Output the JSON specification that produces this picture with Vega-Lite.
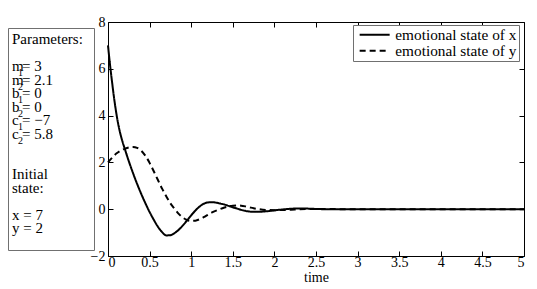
{
  "$schema": "https://vega.github.io/schema/vega-lite/v6.json",
  "padding": {"left": 7, "top": 14, "right": 0, "bottom": 0},
  "background": "white",
  "spacing": 14,
  "bounds": "flush",
  "center": true,
  "resolve": {"legend": {"strokeDash": "independent"}},
  "config": {"font": "Liberation Serif", "view": {"stroke": "black"},
    "axis": {"labelFont": "Liberation Serif", "titleFont": "Liberation Serif"},
    "legend": {"labelFont": "Liberation Serif"}},
  "hconcat": [
    {
      "width": 86,
      "height": 222,
      "view": {"stroke": "#707070", "strokeWidth": 1},
      "data": {"values": [
        {"line": 0, "kind": "main", "text": "Parameters:"},
        {"line": 2, "kind": "main", "text": "m"},
        {"line": 2, "kind": "sub", "text": "1"},
        {"line": 2, "kind": "val", "text": "= 3"},
        {"line": 3, "kind": "main", "text": "m"},
        {"line": 3, "kind": "sub", "text": "2"},
        {"line": 3, "kind": "val", "text": "= 2.1"},
        {"line": 4, "kind": "main", "text": "b"},
        {"line": 4, "kind": "sub", "text": "1"},
        {"line": 4, "kind": "val", "text": "= 0"},
        {"line": 5, "kind": "main", "text": "b"},
        {"line": 5, "kind": "sub", "text": "2"},
        {"line": 5, "kind": "val", "text": "= 0"},
        {"line": 6, "kind": "main", "text": "c"},
        {"line": 6, "kind": "sub", "text": "1"},
        {"line": 6, "kind": "val", "text": "= −7"},
        {"line": 7, "kind": "main", "text": "c"},
        {"line": 7, "kind": "sub", "text": "2"},
        {"line": 7, "kind": "val", "text": "= 5.8"},
        {"line": 10, "kind": "main", "text": "Initial"},
        {"line": 11, "kind": "main", "text": "state:"},
        {"line": 13, "kind": "main", "text": "x = 7"},
        {"line": 14, "kind": "main", "text": "y = 2"}
      ]},
      "encoding": {
        "y": {"field": "line", "type": "quantitative", "scale": {"domain": [-0.85, 15.6], "reverse": true}, "axis": null},
        "x": {"datum": 0, "type": "quantitative", "scale": {"domain": [0, 1]}, "axis": null}
      },
      "layer": [
        {
          "transform": [{"filter": "datum.kind === 'main'"}],
          "mark": {"type": "text", "align": "left", "baseline": "middle", "fontSize": 15, "font": "Liberation Serif", "color": "black", "dx": 4},
          "encoding": {"text": {"field": "text"}}
        },
        {
          "transform": [{"filter": "datum.kind === 'sub'"}],
          "mark": {"type": "text", "align": "left", "baseline": "middle", "fontSize": 10, "font": "Liberation Serif", "color": "black", "dx": 10, "dy": 7},
          "encoding": {"text": {"field": "text"}}
        },
        {
          "transform": [{"filter": "datum.kind === 'val'"}],
          "mark": {"type": "text", "align": "left", "baseline": "middle", "fontSize": 15, "font": "Liberation Serif", "color": "black", "dx": 14},
          "encoding": {"text": {"field": "text"}}
        }
      ]
    },
    {
      "width": 416,
      "height": 234,
      "view": {"stroke": "black", "strokeWidth": 1},
      "data": {"values": [
        {"t": 0, "v": 7.0, "series": "emotional state of x"},
        {"t": 0.025, "v": 6.15, "series": "emotional state of x"},
        {"t": 0.05, "v": 5.4, "series": "emotional state of x"},
        {"t": 0.075, "v": 4.7, "series": "emotional state of x"},
        {"t": 0.1, "v": 4.1, "series": "emotional state of x"},
        {"t": 0.125, "v": 3.6, "series": "emotional state of x"},
        {"t": 0.15, "v": 3.2, "series": "emotional state of x"},
        {"t": 0.175, "v": 2.88, "series": "emotional state of x"},
        {"t": 0.2, "v": 2.6, "series": "emotional state of x"},
        {"t": 0.25, "v": 2.05, "series": "emotional state of x"},
        {"t": 0.3, "v": 1.55, "series": "emotional state of x"},
        {"t": 0.35, "v": 1.08, "series": "emotional state of x"},
        {"t": 0.4, "v": 0.65, "series": "emotional state of x"},
        {"t": 0.45, "v": 0.25, "series": "emotional state of x"},
        {"t": 0.5, "v": -0.12, "series": "emotional state of x"},
        {"t": 0.55, "v": -0.45, "series": "emotional state of x"},
        {"t": 0.6, "v": -0.75, "series": "emotional state of x"},
        {"t": 0.65, "v": -0.98, "series": "emotional state of x"},
        {"t": 0.7, "v": -1.12, "series": "emotional state of x"},
        {"t": 0.75, "v": -1.11, "series": "emotional state of x"},
        {"t": 0.8, "v": -1.02, "series": "emotional state of x"},
        {"t": 0.85, "v": -0.88, "series": "emotional state of x"},
        {"t": 0.9, "v": -0.69, "series": "emotional state of x"},
        {"t": 0.95, "v": -0.48, "series": "emotional state of x"},
        {"t": 1.0, "v": -0.26, "series": "emotional state of x"},
        {"t": 1.05, "v": -0.06, "series": "emotional state of x"},
        {"t": 1.1, "v": 0.11, "series": "emotional state of x"},
        {"t": 1.15, "v": 0.23, "series": "emotional state of x"},
        {"t": 1.2, "v": 0.29, "series": "emotional state of x"},
        {"t": 1.25, "v": 0.3, "series": "emotional state of x"},
        {"t": 1.3, "v": 0.28, "series": "emotional state of x"},
        {"t": 1.35, "v": 0.24, "series": "emotional state of x"},
        {"t": 1.4, "v": 0.2, "series": "emotional state of x"},
        {"t": 1.45, "v": 0.14, "series": "emotional state of x"},
        {"t": 1.5, "v": 0.08, "series": "emotional state of x"},
        {"t": 1.55, "v": 0.03, "series": "emotional state of x"},
        {"t": 1.6, "v": -0.03, "series": "emotional state of x"},
        {"t": 1.65, "v": -0.07, "series": "emotional state of x"},
        {"t": 1.7, "v": -0.1, "series": "emotional state of x"},
        {"t": 1.75, "v": -0.11, "series": "emotional state of x"},
        {"t": 1.8, "v": -0.11, "series": "emotional state of x"},
        {"t": 1.9, "v": -0.09, "series": "emotional state of x"},
        {"t": 2.0, "v": -0.05, "series": "emotional state of x"},
        {"t": 2.1, "v": -0.01, "series": "emotional state of x"},
        {"t": 2.2, "v": 0.02, "series": "emotional state of x"},
        {"t": 2.3, "v": 0.03, "series": "emotional state of x"},
        {"t": 2.4, "v": 0.025, "series": "emotional state of x"},
        {"t": 2.5, "v": 0.01, "series": "emotional state of x"},
        {"t": 2.7, "v": -0.005, "series": "emotional state of x"},
        {"t": 3.0, "v": 0, "series": "emotional state of x"},
        {"t": 4.0, "v": 0, "series": "emotional state of x"},
        {"t": 5.0, "v": 0, "series": "emotional state of x"},
        {"t": 0, "v": 2.0, "series": "emotional state of y"},
        {"t": 0.05, "v": 2.2, "series": "emotional state of y"},
        {"t": 0.1, "v": 2.38, "series": "emotional state of y"},
        {"t": 0.15, "v": 2.5, "series": "emotional state of y"},
        {"t": 0.2, "v": 2.58, "series": "emotional state of y"},
        {"t": 0.25, "v": 2.64, "series": "emotional state of y"},
        {"t": 0.3, "v": 2.66, "series": "emotional state of y"},
        {"t": 0.35, "v": 2.62, "series": "emotional state of y"},
        {"t": 0.4, "v": 2.5, "series": "emotional state of y"},
        {"t": 0.45, "v": 2.28, "series": "emotional state of y"},
        {"t": 0.5, "v": 1.98, "series": "emotional state of y"},
        {"t": 0.55, "v": 1.62, "series": "emotional state of y"},
        {"t": 0.6, "v": 1.25, "series": "emotional state of y"},
        {"t": 0.65, "v": 0.88, "series": "emotional state of y"},
        {"t": 0.7, "v": 0.55, "series": "emotional state of y"},
        {"t": 0.75, "v": 0.25, "series": "emotional state of y"},
        {"t": 0.8, "v": 0.02, "series": "emotional state of y"},
        {"t": 0.85, "v": -0.2, "series": "emotional state of y"},
        {"t": 0.9, "v": -0.36, "series": "emotional state of y"},
        {"t": 0.95, "v": -0.46, "series": "emotional state of y"},
        {"t": 1.0, "v": -0.5, "series": "emotional state of y"},
        {"t": 1.05, "v": -0.49, "series": "emotional state of y"},
        {"t": 1.1, "v": -0.43, "series": "emotional state of y"},
        {"t": 1.15, "v": -0.34, "series": "emotional state of y"},
        {"t": 1.2, "v": -0.24, "series": "emotional state of y"},
        {"t": 1.25, "v": -0.14, "series": "emotional state of y"},
        {"t": 1.3, "v": -0.06, "series": "emotional state of y"},
        {"t": 1.35, "v": 0.01, "series": "emotional state of y"},
        {"t": 1.4, "v": 0.07, "series": "emotional state of y"},
        {"t": 1.45, "v": 0.12, "series": "emotional state of y"},
        {"t": 1.5, "v": 0.15, "series": "emotional state of y"},
        {"t": 1.55, "v": 0.16, "series": "emotional state of y"},
        {"t": 1.6, "v": 0.15, "series": "emotional state of y"},
        {"t": 1.65, "v": 0.12, "series": "emotional state of y"},
        {"t": 1.7, "v": 0.08, "series": "emotional state of y"},
        {"t": 1.75, "v": 0.04, "series": "emotional state of y"},
        {"t": 1.8, "v": 0.01, "series": "emotional state of y"},
        {"t": 1.9, "v": -0.03, "series": "emotional state of y"},
        {"t": 2.0, "v": -0.04, "series": "emotional state of y"},
        {"t": 2.1, "v": -0.035, "series": "emotional state of y"},
        {"t": 2.2, "v": -0.02, "series": "emotional state of y"},
        {"t": 2.3, "v": 0.0, "series": "emotional state of y"},
        {"t": 2.4, "v": 0.01, "series": "emotional state of y"},
        {"t": 2.5, "v": 0.012, "series": "emotional state of y"},
        {"t": 2.7, "v": 0.005, "series": "emotional state of y"},
        {"t": 3.0, "v": 0, "series": "emotional state of y"},
        {"t": 4.0, "v": 0, "series": "emotional state of y"},
        {"t": 5.0, "v": 0, "series": "emotional state of y"}
      ]},
      "layer": [
        {
          "mark": {"type": "line", "color": "black", "strokeWidth": 2, "interpolate": "monotone"},
          "encoding": {
            "x": {"field": "t", "type": "quantitative", "scale": {"domain": [0, 5], "nice": false},
              "axis": {"values": [0, 0.5, 1, 1.5, 2, 2.5, 3, 3.5, 4, 4.5, 5], "format": "~g", "grid": false, "domain": false,
                "tickSize": -5, "tickColor": "black", "labelPadding": 4, "labelFont": "Liberation Serif", "labelFontSize": 14, "labelColor": "black",
                "title": "time", "titleFont": "Liberation Serif", "titleFontSize": 14, "titleFontWeight": "normal", "titleColor": "black", "titlePadding": 1}},
            "y": {"field": "v", "type": "quantitative", "scale": {"domain": [-2, 8], "nice": false},
              "axis": {"values": [-2, 0, 2, 4, 6, 8], "format": "~g", "grid": false, "domain": false,
                "tickSize": -5, "tickColor": "black", "labelPadding": 8, "labelFont": "Liberation Serif", "labelFontSize": 14, "labelColor": "black", "title": null}},
            "strokeDash": {"field": "series", "type": "nominal",
              "scale": {"domain": ["emotional state of x", "emotional state of y"], "range": [[1, 0], [6, 4]]},
              "legend": {"title": null, "orient": "none", "legendX": 245, "legendY": 3, "fillColor": "white", "strokeColor": "#707070",
                "padding": 2, "symbolType": "M-2.5,0H2.5", "symbolSize": 144, "symbolStrokeWidth": 2, "symbolStrokeColor": "black", "symbolFillColor": "transparent",
                "symbolOffset": 12, "labelOffset": 13,
                "labelFont": "Liberation Serif", "labelFontSize": 15.3, "labelColor": "black", "rowPadding": -3, "cornerRadius": 0}}
          }
        },
        {
          "mark": {"type": "line", "opacity": 0},
          "encoding": {
            "x": {"field": "t", "type": "quantitative", "axis": {"orient": "top", "values": [0, 0.5, 1, 1.5, 2, 2.5, 3, 3.5, 4, 4.5, 5], "labels": false, "grid": false, "domain": false, "tickSize": -5, "tickColor": "black", "title": null}},
            "y": {"field": "v", "type": "quantitative", "axis": {"orient": "right", "values": [-2, 0, 2, 4, 6, 8], "labels": false, "grid": false, "domain": false, "tickSize": -5, "tickColor": "black", "title": null}},
            "detail": {"field": "series"}
          }
        }
      ],
      "resolve": {"axis": {"x": "independent", "y": "independent"}}
    }
  ]
}
